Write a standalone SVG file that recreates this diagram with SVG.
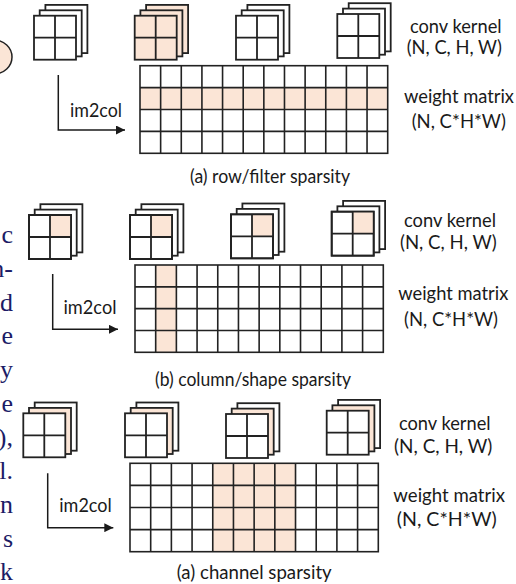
<svg xmlns="http://www.w3.org/2000/svg" width="516" height="584" viewBox="0 0 516 584">
<style>
.w{fill:#ffffff;stroke:#222;stroke-width:1.8}
.p{fill:#fbe5d6;stroke:#222;stroke-width:1.8}
.ln{fill:none;stroke:#222;stroke-width:1.8}
.sh{fill:#fbe5d6;stroke:none}
.grid{fill:none;stroke:#222;stroke-width:1.6}
.arr{fill:none;stroke:#1a1a1a;stroke-width:1.5}
.t{font-family:Lato,"Open Sans",sans-serif;font-size:18.5px;fill:#1a1a1a;text-anchor:middle}
.s{font-family:"Liberation Serif","Times New Roman",serif;font-size:26px;fill:#1c1c66;text-anchor:end}
</style>
<defs>
<marker id="ah" markerUnits="userSpaceOnUse" markerWidth="10" markerHeight="9" refX="9" refY="4.5" orient="auto"><path d="M0,0 L9,4.5 L0,9 z" fill="#1a1a1a"/></marker>
</defs>
<rect width="516" height="584" fill="#ffffff"/>

<!-- partial ellipse at left -->
<ellipse id="blob" cx="-6" cy="57" rx="18" ry="17" fill="#fbe5d6" stroke="#222" stroke-width="1.5"/>

<!-- left side cut text -->
<g id="sidetext">
<text class="s" x="13" y="243.3">c</text>
<text class="s" x="13" y="277">n-</text>
<text class="s" x="13" y="310.7">d</text>
<text class="s" x="13" y="344.4">e</text>
<text class="s" x="13" y="378.1">y</text>
<text class="s" x="13" y="411.8">e</text>
<text class="s" x="13" y="445.5">),</text>
<text class="s" x="13" y="479.2">l.</text>
<text class="s" x="13" y="512.9">n</text>
<text class="s" x="13" y="546.6">s</text>
<text class="s" x="13" y="580.3">k</text>
</g>

<!-- Row (a) kernels -->
<g id="kernel-a1" transform="translate(34,15.7)">
<rect class="w" x="11.4" y="-10.8" width="42" height="48.2"/>
<rect class="w" x="5.7" y="-5.4" width="42" height="46.1"/>
<rect class="w" x="0" y="0" width="42" height="44"/>
<path class="ln" d="M21,0V44M0,22H42"/>
</g>
<g id="kernel-a2" transform="translate(134.7,15.7)">
<rect class="p" x="11.4" y="-10.8" width="42" height="48.2"/>
<rect class="p" x="5.7" y="-5.4" width="42" height="46.1"/>
<rect class="p" x="0" y="0" width="42" height="44"/>
<path class="ln" d="M21,0V44M0,22H42"/>
</g>
<g id="kernel-a3" transform="translate(236,15.7)">
<rect class="w" x="11.4" y="-10.8" width="42" height="48.2"/>
<rect class="w" x="5.7" y="-5.4" width="42" height="46.1"/>
<rect class="w" x="0" y="0" width="42" height="44"/>
<path class="ln" d="M21,0V44M0,22H42"/>
</g>
<g id="kernel-a4" transform="translate(337.3,14)">
<rect class="w" x="11.4" y="-10.8" width="42" height="48.2"/>
<rect class="w" x="5.7" y="-5.4" width="42" height="46.1"/>
<rect class="w" x="0" y="0" width="42" height="44"/>
<path class="ln" d="M21,0V44M0,22H42"/>
</g>

<!-- Row (a) matrix -->
<g id="matrix-a">
<rect class="sh" x="140" y="87.6" width="247.7" height="21.9"/>
<rect class="grid" x="140" y="65.7" width="247.7" height="87.6"/>
<path class="grid" d="M160.64,65.7V153.3M181.28,65.7V153.3M201.92,65.7V153.3M222.56,65.7V153.3M243.2,65.7V153.3M263.84,65.7V153.3M284.48,65.7V153.3M305.12,65.7V153.3M325.76,65.7V153.3M346.4,65.7V153.3M367.04,65.7V153.3M140,87.6H387.7M140,109.5H387.7M140,131.4H387.7"/>
</g>

<!-- Row (b) kernels -->
<g id="kernel-b1" transform="translate(29,215)">
<rect class="w" x="11.4" y="-10.8" width="42" height="48.2"/>
<rect class="w" x="5.7" y="-5.4" width="42" height="46.1"/>
<rect class="w" x="0" y="0" width="42" height="44"/>
<rect class="sh" x="21" y="0" width="21" height="22"/>
<path class="ln" d="M0,0H42V44H0zM21,0V44M0,22H42"/>
</g>
<g id="kernel-b2" transform="translate(130,215)">
<rect class="w" x="11.4" y="-10.8" width="42" height="48.2"/>
<rect class="w" x="5.7" y="-5.4" width="42" height="46.1"/>
<rect class="w" x="0" y="0" width="42" height="44"/>
<rect class="sh" x="21" y="0" width="21" height="22"/>
<path class="ln" d="M0,0H42V44H0zM21,0V44M0,22H42"/>
</g>
<g id="kernel-b3" transform="translate(231,214.3)">
<rect class="w" x="11.4" y="-10.8" width="42" height="48.2"/>
<rect class="w" x="5.7" y="-5.4" width="42" height="46.1"/>
<rect class="w" x="0" y="0" width="42" height="44"/>
<rect class="sh" x="21" y="0" width="21" height="22"/>
<path class="ln" d="M0,0H42V44H0zM21,0V44M0,22H42"/>
</g>
<g id="kernel-b4" transform="translate(331.7,211.7)">
<rect class="w" x="11.4" y="-10.8" width="42" height="48.2"/>
<rect class="w" x="5.7" y="-5.4" width="42" height="46.1"/>
<rect class="w" x="0" y="0" width="42" height="44"/>
<rect class="sh" x="21" y="0" width="21" height="22"/>
<path class="ln" d="M0,0H42V44H0zM21,0V44M0,22H42"/>
</g>

<!-- Row (b) matrix -->
<g id="matrix-b">
<rect class="sh" x="155.69" y="265" width="20.69" height="87.3"/>
<rect class="grid" x="135" y="265" width="248.3" height="87.3"/>
<path class="grid" d="M155.69,265V352.3M176.38,265V352.3M197.07,265V352.3M217.76,265V352.3M238.45,265V352.3M259.14,265V352.3M279.83,265V352.3M300.52,265V352.3M321.21,265V352.3M341.9,265V352.3M362.59,265V352.3M135,286.83H383.3M135,308.65H383.3M135,330.48H383.3"/>
</g>

<!-- Row (c) kernels -->
<g id="kernel-c1" transform="translate(23.3,413.3)">
<rect class="w" x="11.4" y="-10.8" width="42" height="48.2"/>
<rect class="p" x="5.7" y="-5.4" width="42" height="46.1"/>
<rect class="w" x="0" y="0" width="42" height="44"/>
<path class="ln" d="M21,0V44M0,22H42"/>
</g>
<g id="kernel-c2" transform="translate(125,413.3)">
<rect class="w" x="11.4" y="-10.8" width="42" height="48.2"/>
<rect class="p" x="5.7" y="-5.4" width="42" height="46.1"/>
<rect class="w" x="0" y="0" width="42" height="44"/>
<path class="ln" d="M21,0V44M0,22H42"/>
</g>
<g id="kernel-c3" transform="translate(226,414)">
<rect class="w" x="11.4" y="-10.8" width="42" height="48.2"/>
<rect class="p" x="5.7" y="-5.4" width="42" height="46.1"/>
<rect class="w" x="0" y="0" width="42" height="44"/>
<path class="ln" d="M21,0V44M0,22H42"/>
</g>
<g id="kernel-c4" transform="translate(326.7,410.7)">
<rect class="w" x="11.4" y="-10.8" width="42" height="48.2"/>
<rect class="p" x="5.7" y="-5.4" width="42" height="46.1"/>
<rect class="w" x="0" y="0" width="42" height="44"/>
<path class="ln" d="M21,0V44M0,22H42"/>
</g>

<!-- Row (c) matrix -->
<g id="matrix-c">
<rect class="sh" x="212.76" y="463.3" width="82.76" height="88.4"/>
<rect class="grid" x="130" y="463.3" width="248.3" height="88.4"/>
<path class="grid" d="M150.69,463.3V551.7M171.38,463.3V551.7M192.07,463.3V551.7M212.76,463.3V551.7M233.45,463.3V551.7M254.14,463.3V551.7M274.83,463.3V551.7M295.52,463.3V551.7M316.21,463.3V551.7M336.9,463.3V551.7M357.59,463.3V551.7M130,485.4H378.3M130,507.5H378.3M130,529.6H378.3"/>
</g>

<!-- connectors -->
<g id="connectors">
<path class="arr" d="M58.3,75V130H125" marker-end="url(#ah)"/>
<path class="arr" d="M52.7,274V329.3H118" marker-end="url(#ah)"/>
<path class="arr" d="M47.7,473.3V527.7H113.3" marker-end="url(#ah)"/>
</g>

<!-- labels -->
<g id="labels">
<text class="t" x="96" y="117" textLength="52" lengthAdjust="spacingAndGlyphs">im2col</text>
<text class="t" x="90" y="314" textLength="53" lengthAdjust="spacingAndGlyphs">im2col</text>
<text class="t" x="85.5" y="511.7" textLength="52.4" lengthAdjust="spacingAndGlyphs">im2col</text>

<text class="t" x="455.8" y="33" textLength="91.7" lengthAdjust="spacingAndGlyphs">conv kernel</text>
<text class="t" x="454.3" y="54" textLength="95.3" lengthAdjust="spacingAndGlyphs">(N, C, H, W)</text>
<text class="t" x="459" y="103" textLength="110" lengthAdjust="spacingAndGlyphs">weight matrix</text>
<text class="t" x="458.8" y="128" textLength="94.3" lengthAdjust="spacingAndGlyphs">(N, C*H*W)</text>
<text class="t" x="270" y="183" textLength="160" lengthAdjust="spacingAndGlyphs">(a) row/filter sparsity</text>

<text class="t" x="450" y="227" textLength="92" lengthAdjust="spacingAndGlyphs">conv kernel</text>
<text class="t" x="448.3" y="249" textLength="96.7" lengthAdjust="spacingAndGlyphs">(N, C, H, W)</text>
<text class="t" x="453.3" y="300" textLength="110" lengthAdjust="spacingAndGlyphs">weight matrix</text>
<text class="t" x="451" y="326" textLength="94" lengthAdjust="spacingAndGlyphs">(N, C*H*W)</text>
<text class="t" x="253" y="386" textLength="196" lengthAdjust="spacingAndGlyphs">(b) column/shape sparsity</text>

<text class="t" x="444.8" y="430" textLength="91.7" lengthAdjust="spacingAndGlyphs">conv kernel</text>
<text class="t" x="443.2" y="453" textLength="98.3" lengthAdjust="spacingAndGlyphs">(N, C, H, W)</text>
<text class="t" x="449.2" y="502" textLength="111.7" lengthAdjust="spacingAndGlyphs">weight matrix</text>
<text class="t" x="446.7" y="526" textLength="100" lengthAdjust="spacingAndGlyphs">(N, C*H*W)</text>
<text class="t" x="254.2" y="579" textLength="155" lengthAdjust="spacingAndGlyphs">(a) channel sparsity</text>
</g>
</svg>
